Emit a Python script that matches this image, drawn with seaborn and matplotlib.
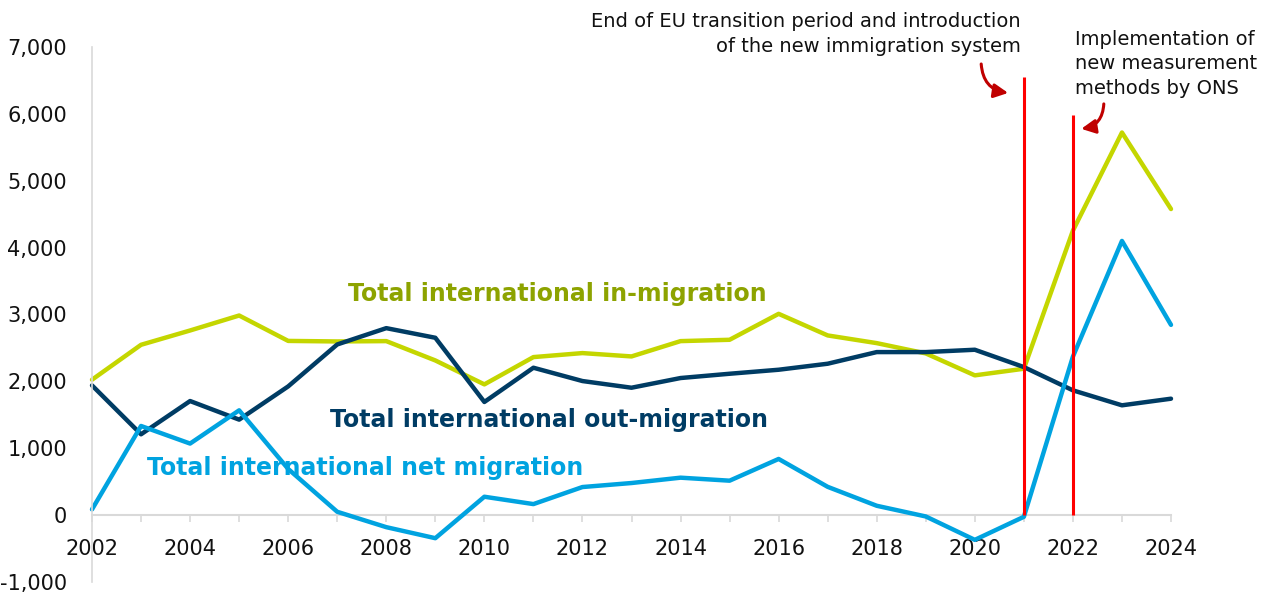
import matplotlib
matplotlib.use("Agg")
import matplotlib.pyplot as plt
import seaborn as sns
import pandas as pd
from matplotlib.ticker import FuncFormatter, MultipleLocator

years = list(range(2002, 2025))
in_migration = [2025, 2547, 2761, 2985, 2605, 2597, 2602, 2313, 1955, 2363, 2423, 2373,
                2602, 2622, 3010, 2687, 2572, 2418, 2090, 2189, 4254, 5721, 4577]
out_migration = [1940, 1209, 1706, 1428, 1925, 2552, 2796, 2652, 1692, 2204, 2005, 1905,
                 2050, 2114, 2174, 2264, 2438, 2438, 2473, 2214, 1866, 1642, 1741]
net_migration = [85, 1333, 1070, 1567, 690, 50, -180, -345, 275, 165, 420, 480,
                 560, 515, 840, 423, 140, -20, -370, -25, 2370, 4100, 2845]

series_names = ["Total international in-migration",
                "Total international out-migration",
                "Total international net migration"]
line_colors = ["#c4d600", "#003c64", "#00a3e0"]
label_colors = ["#8da300", "#003c64", "#00a3e0"]

df = pd.DataFrame({
    "year": years * 3,
    "value": in_migration + out_migration + net_migration,
    "series": [series_names[0]] * len(years) + [series_names[1]] * len(years)
              + [series_names[2]] * len(years),
})

sns.set_theme(style="white")
plt.rcParams["font.family"] = ["DejaVu Sans"]

fig = plt.figure(figsize=(12.75, 5.94), dpi=100)
ax = fig.add_axes([92 / 1275, 1 - 582 / 594, (1171 - 92) / 1275, (582 - 47) / 594])

sns.lineplot(data=df, x="year", y="value", hue="series", palette=dict(zip(series_names, line_colors)),
             linewidth=3.2, legend=False, ax=ax, clip_on=False)

ax.set_xlim(2002, 2024)
ax.set_ylim(-1000, 7000)
ax.set_xlabel("")
ax.set_ylabel("")

for s in ["top", "right"]:
    ax.spines[s].set_visible(False)
ax.spines["left"].set_color("#d9d9d9")
ax.spines["left"].set_linewidth(1.2)
ax.spines["bottom"].set_position(("data", 0))
ax.spines["bottom"].set_color("#d9d9d9")
ax.spines["bottom"].set_linewidth(1.5)
ax.spines["bottom"].set_zorder(0)

ax.xaxis.set_major_locator(MultipleLocator(2))
ax.xaxis.set_minor_locator(MultipleLocator(1))
ax.yaxis.set_major_locator(MultipleLocator(1000))
ax.yaxis.set_major_formatter(FuncFormatter(lambda v, p: f"{int(v):,}"))
ax.tick_params(axis="x", which="both", direction="out", length=5, width=1.2,
               color="#d9d9d9", bottom=True, labelsize=15, labelcolor="#111111", pad=12)
ax.tick_params(axis="y", length=0, labelsize=15, labelcolor="#111111", pad=18)

# Series labels
ax.text(2011.48, 3313, series_names[0], color=label_colors[0], fontsize=17,
        fontweight="bold", ha="center", va="center")
ax.text(2011.31, 1418, series_names[1], color=label_colors[1], fontsize=17,
        fontweight="bold", ha="center", va="center")
ax.text(2007.56, 701, series_names[2], color=label_colors[2], fontsize=17,
        fontweight="bold", ha="center", va="center")

# Event markers
ax.vlines([2021], 0, 6550, color="#ff0000", linewidth=2.2, zorder=5)
ax.vlines([2022], 0, 5980, color="#ff0000", linewidth=2.2, zorder=5)

ax.text(2020.94, 7194, "End of EU transition period and introduction\nof the new immigration system",
        ha="right", va="center", fontsize=14, color="#111111",
        linespacing=1.35, clip_on=False)
ax.text(2022.04, 6746, "Implementation of\nnew measurement\nmethods by ONS",
        ha="left", va="center", fontsize=14, color="#111111",
        linespacing=1.35, clip_on=False)

ax.annotate("", xy=(2020.68, 6313), xytext=(2020.13, 6746),
            arrowprops=dict(arrowstyle="-|>,head_length=0.7,head_width=0.35", color="#c00000",
                            lw=2.2, connectionstyle="arc3,rad=0.4", shrinkA=0, shrinkB=0),
            annotation_clip=False)
ax.annotate("", xy=(2022.17, 5776), xytext=(2022.63, 6149),
            arrowprops=dict(arrowstyle="-|>,head_length=0.7,head_width=0.35", color="#c00000",
                            lw=2.2, connectionstyle="arc3,rad=-0.4", shrinkA=0, shrinkB=0),
            annotation_clip=False)

fig.savefig("out.png", dpi=100)
